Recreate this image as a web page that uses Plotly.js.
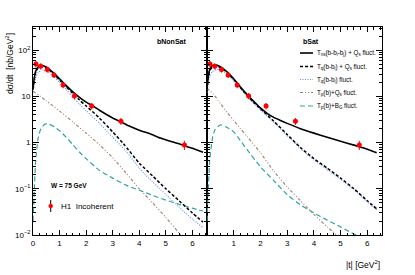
<!DOCTYPE html>
<html><head><meta charset="utf-8">
<script src="https://cdn.plot.ly/plotly-3.0.1.min.js"></script>
<style>html,body{margin:0;padding:0;background:#fff}#c{width:415px;height:275px}</style>
</head><body><div id="c"></div>
<script>
// H1 incoherent data, W = 75 GeV
var dataT = [0.11, 0.29, 0.54, 0.79, 1.13, 1.56, 2.21, 3.31, 5.70];
var dataV = [50, 45, 38, 29, 17.5, 10.2, 6.2, 2.9, 0.89];
var dataE = [8, 7, 5.5, 4, 2.6, 1.6, 1.0, 0.5, 0.2];

// bNonSat (left panel)
var tSolidL = [0, 0.05, 0.1, 0.2, 0.3, 0.5, 0.75, 1.0, 1.25, 1.5, 1.75, 2.0, 2.25, 2.5, 2.75, 3.0, 3.3, 3.6, 4.0, 4.4, 4.8, 5.2, 5.6, 6.0, 6.4];
var vSolidL = [15, 25, 35, 44, 47, 43, 33, 24, 17, 12.5, 9.5, 7.5, 6.2, 5.0, 4.1, 3.4, 2.8, 2.3, 1.85, 1.55, 1.25, 1.05, 0.9, 0.75, 0.62];
var tDashL = [0, 0.05, 0.1, 0.2, 0.3, 0.5, 0.75, 1.0, 1.25, 1.5, 1.75, 2.0, 2.5, 3.0, 3.4, 4.0, 4.5, 5.0, 5.5, 6.0, 6.4];
var vDashL = [14, 24, 33, 42, 45, 41, 31.5, 22.5, 16, 11.5, 8.3, 6.2, 3.4, 1.7, 0.95, 0.36, 0.19, 0.1, 0.055, 0.03, 0.019];
var tBlueL = [0, 0.05, 0.1, 0.2, 0.35, 0.5, 0.75, 1.0, 1.25, 1.5, 1.75, 2.0, 2.5, 3.0, 3.5, 4.0, 4.5, 5.0, 5.5, 6.0, 6.4];
var vBlueL = [12, 18, 25, 33, 37, 35, 28, 20, 14, 9.7, 6.8, 4.9, 2.6, 1.3, 0.65, 0.28, 0.14, 0.075, 0.04, 0.022, 0.0145];
var tBrownL = [0, 0.5, 1.0, 1.5, 2.0, 2.5, 3.0, 3.5, 4.0, 4.5, 5.0, 5.5, 6.0];
var vBrownL = [13, 8, 4.8, 2.8, 1.6, 0.9, 0.47, 0.22, 0.1, 0.05, 0.024, 0.011, 0.005];
var tTealL = [0, 0.05, 0.1, 0.2, 0.3, 0.45, 0.6, 0.8, 1.0, 1.25, 1.5, 1.75, 2.0, 2.5, 3.0, 3.5, 4.0, 4.5, 5.0, 5.5, 6.0, 6.4];
var vTealL = [0.02, 0.1, 0.4, 1.3, 2.0, 2.5, 2.5, 2.2, 1.8, 1.3, 0.9, 0.62, 0.45, 0.25, 0.17, 0.12, 0.093, 0.072, 0.057, 0.046, 0.038, 0.033];

// bSat (right panel)
var tSolidR = [0, 0.05, 0.1, 0.2, 0.3, 0.5, 0.75, 1.0, 1.25, 1.5, 1.75, 2.0, 2.25, 2.5, 2.75, 3.0, 3.5, 4.0, 4.5, 5.0, 5.5, 6.0, 6.35];
var vSolidR = [15, 27, 38, 46, 48, 44, 34, 24, 16, 11, 7.8, 5.6, 4.3, 3.5, 3.0, 2.6, 2.0, 1.6, 1.3, 1.07, 0.88, 0.72, 0.6];
var tDashR = [0, 0.05, 0.1, 0.2, 0.3, 0.5, 0.75, 1.0, 1.25, 1.5, 1.75, 2.0, 2.5, 3.0, 3.5, 4.0, 4.5, 5.0, 5.5, 6.0, 6.35];
var vDashR = [14, 26, 36, 43, 45, 42, 33, 23, 15.5, 10.5, 7.4, 5.4, 2.9, 1.5, 0.78, 0.45, 0.28, 0.17, 0.1, 0.055, 0.037];
var tBlueR = [0, 0.05, 0.1, 0.2, 0.35, 0.5, 0.75, 1.0, 1.25, 1.5, 1.75, 2.0, 2.5, 3.0, 3.5, 4.0, 4.5, 5.0, 5.5, 6.0, 6.35];
var vBlueR = [12, 20, 27, 34, 38, 37, 30, 21.5, 14.5, 10, 7.0, 5.1, 2.75, 1.42, 0.74, 0.42, 0.26, 0.16, 0.095, 0.052, 0.035];
var tBrownR = [0, 0.25, 0.5, 0.75, 1.0, 1.25, 1.5, 2.0, 2.5, 3.0, 3.5, 4.0, 4.5, 4.9];
var vBrownR = [15, 11, 7, 4.5, 3.0, 2.0, 1.35, 0.6, 0.24, 0.11, 0.055, 0.028, 0.015, 0.0095];
var tTealR = [0, 0.05, 0.1, 0.2, 0.3, 0.5, 0.7, 1.0, 1.25, 1.5, 2.0, 2.5, 3.0, 3.5, 4.0, 4.5, 5.0, 5.5, 5.7];
var vTealR = [0.02, 0.1, 0.4, 1.2, 1.9, 2.4, 2.2, 1.7, 1.1, 0.7, 0.3, 0.15, 0.075, 0.045, 0.03, 0.021, 0.015, 0.0105, 0.0095];

var legendLabels = [
  'T<sub>ns</sub>(b-b<sub>i</sub>-b<sub>j</sub>) + Q<sub>s</sub> fluct.',
  'T<sub>q</sub>(b-b<sub>i</sub>) + Q<sub>s</sub> fluct.',
  'T<sub>q</sub>(b-b<sub>i</sub>) fluct.',
  'T<sub>p</sub>(b)+Q<sub>s</sub> fluct.',
  'T<sub>p</sub>(b)+B<sub>G</sub> fluct.'
];

var W = 415, H = 275;
function px(x){return x/W;}
function py(y){return 1 - y/H;}

var styles = [
  {color:'#000000', width:1.6, dash:'solid'},
  {color:'#000000', width:1.5, dash:'3px,2px'},
  {color:'#5a8ff0', width:1.1, dash:'1px,1.5px'},
  {color:'#a08068', width:1.1, dash:'3px,2px,1px,2px,1px,2px'},
  {color:'#2fa3a3', width:1.2, dash:'5px,3px'}
];

function line(t, v, s, xa, ya){
  return {x:t, y:v, xaxis:xa, yaxis:ya, mode:'lines', line:{color:s.color, width:s.width, dash:s.dash, shape:'spline', smoothing:0.6}, hoverinfo:'skip', showlegend:false};
}
function pts(xa, ya){
  return {x:dataT, y:dataV, xaxis:xa, yaxis:ya, mode:'markers', marker:{color:'#ff0000', size:5, symbol:'circle'},
    error_y:{type:'data', array:dataE, color:'#ff0000', thickness:1, width:0}, showlegend:false};
}

var traces = [
  line(tTealL, vTealL, styles[4], 'x', 'y'),
  line(tBrownL, vBrownL, styles[3], 'x', 'y'),
  line(tBlueL, vBlueL, styles[2], 'x', 'y'),
  line(tDashL, vDashL, styles[1], 'x', 'y'),
  line(tSolidL, vSolidL, styles[0], 'x', 'y'),
  pts('x', 'y'),
  line(tTealR, vTealR, styles[4], 'x2', 'y2'),
  line(tBrownR, vBrownR, styles[3], 'x2', 'y2'),
  line(tBlueR, vBlueR, styles[2], 'x2', 'y2'),
  line(tDashR, vDashR, styles[1], 'x2', 'y2'),
  line(tSolidR, vSolidR, styles[0], 'x2', 'y2'),
  pts('x2', 'y2')
];

var fnt = {family:'Liberation Sans, Arial, sans-serif', size:8, color:'#000'};
var xBase = {range:[0,6.55], ticks:'inside', ticklen:5, tickcolor:'#000', tickwidth:1, showline:true, linecolor:'#000', linewidth:1,
  mirror:'allticks', showgrid:false, zeroline:false, tickfont:fnt, dtick:1,
  minor:{dtick:0.25, ticklen:2.5, tickcolor:'#000', ticks:'inside', showgrid:false}};
var yBase = {type:'log', range:[-2, 2.5], ticks:'inside', ticklen:6, tickcolor:'#000', tickwidth:1, showline:true, linecolor:'#000', linewidth:1,
  mirror:'allticks', showgrid:false, zeroline:false, tickfont:fnt,
  tickvals:[0.01,0.1,1,10,100], ticktext:['10<sup>−2</sup>','10<sup>−1</sup>','1','10','10<sup>2</sup>'],
  minor:{tickvals:[0.02,0.03,0.04,0.05,0.06,0.07,0.08,0.09,0.2,0.3,0.4,0.5,0.6,0.7,0.8,0.9,2,3,4,5,6,7,8,9,20,30,40,50,60,70,80,90,200,300], ticklen:3, tickcolor:'#000', ticks:'inside', showgrid:false}};

var layout = {
  width:W, height:H, margin:{l:0,r:0,t:0,b:0}, paper_bgcolor:'#fff', plot_bgcolor:'#fff', showlegend:false,
  font:fnt,
  xaxis: Object.assign({}, xBase, {domain:[px(33), px(207)], anchor:'y', tickvals:[0,1,2,3,4,5,6]}),
  xaxis2: Object.assign({}, xBase, {domain:[px(207), px(382)], anchor:'y2', tickvals:[1,2,3,4,5,6]}),
  yaxis: Object.assign({}, yBase, {domain:[py(235), py(27)], anchor:'x'}),
  yaxis2: Object.assign({}, yBase, {domain:[py(235), py(27)], anchor:'x2', matches:'y', showticklabels:false}),
  annotations:[], shapes:[]
};

var A = layout.annotations, S = layout.shapes;
A.push({xref:'paper', yref:'paper', x:px(10), y:py(64), text:'dσ/dt  [nb/GeV<sup>2</sup>]', textangle:-90, showarrow:false,
  font:{family:fnt.family, size:8.5, color:'#000'}, xanchor:'center', yanchor:'middle'});
A.push({xref:'paper', yref:'paper', x:px(382), y:py(264), text:'|t| [GeV<sup>2</sup>]', showarrow:false,
  font:{family:fnt.family, size:8.5, color:'#000'}, xanchor:'right', yanchor:'middle'});
A.push({xref:'paper', yref:'paper', x:px(155), y:py(42), text:'<b>bNonSat</b>', showarrow:false,
  font:{family:fnt.family, size:7, color:'#000'}, xanchor:'left', yanchor:'middle'});
A.push({xref:'paper', yref:'paper', x:px(301), y:py(42), text:'<b>bSat</b>', showarrow:false,
  font:{family:fnt.family, size:7, color:'#000'}, xanchor:'left', yanchor:'middle'});
A.push({xref:'paper', yref:'paper', x:px(49), y:py(185), text:'<b>W = 75 GeV</b>', showarrow:false,
  font:{family:fnt.family, size:6.5, color:'#000'}, xanchor:'left', yanchor:'middle'});
A.push({xref:'paper', yref:'paper', x:px(59), y:py(206), text:'H1  Incoherent', showarrow:false,
  font:{family:fnt.family, size:8, color:'#000'}, xanchor:'left', yanchor:'middle'});
// H1 legend marker
S.push({type:'line', xref:'paper', yref:'paper', x0:px(50.7), x1:px(50.7), y0:py(200), y1:py(212), line:{color:'#000', width:1}});
S.push({type:'circle', xref:'paper', yref:'paper', x0:px(48.7), x1:px(52.7), y0:py(204), y1:py(208), fillcolor:'#ff0000', line:{color:'#ff0000', width:0.5}});

var legY = [53, 66.5, 79.5, 92.5, 106];
for (var i=0;i<5;i++){
  S.push({type:'line', xref:'paper', yref:'paper', x0:px(300), x1:px(313), y0:py(legY[i]), y1:py(legY[i]),
    line:{color:styles[i].color, width:styles[i].width, dash:styles[i].dash}});
  A.push({xref:'paper', yref:'paper', x:px(315), y:py(legY[i]), text:legendLabels[i], showarrow:false,
    font:{family:fnt.family, size:6.3, color:'#000'}, xanchor:'left', yanchor:'middle'});
}

Plotly.newPlot('c', traces, layout, {staticPlot:true, displayModeBar:false});
</script></body></html>
